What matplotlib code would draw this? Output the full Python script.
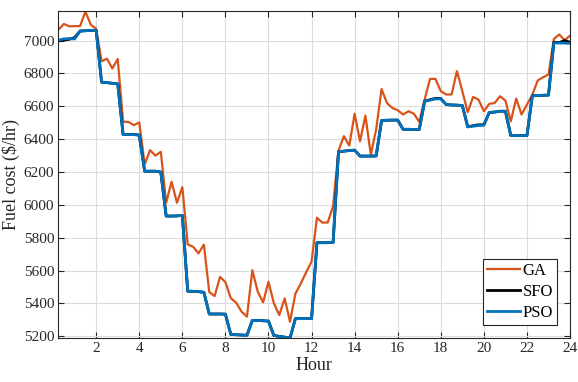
import numpy as np
import matplotlib
matplotlib.use("Agg")
import matplotlib.pyplot as plt

plt.rcParams['font.family'] = ['Liberation Serif', 'DejaVu Serif']

# time of day, 15 minute steps
hours = np.arange(1, 97) * 0.25

ga = [7067, 7101, 7087, 7088, 7088, 7176, 7097, 7071,
      6874, 6890, 6830, 6888, 6506, 6505, 6485, 6502,
      6246, 6333, 6300, 6323, 6013, 6141, 6013, 6108,
      5760, 5745, 5705, 5758, 5470, 5445, 5562, 5530,
      5432, 5405, 5350, 5320, 5603, 5472, 5407, 5532,
      5401, 5330, 5431, 5289, 5460, 5522, 5590, 5655,
      5922, 5892, 5893, 5993, 6331, 6418, 6361, 6555,
      6387, 6543, 6306, 6460, 6705, 6620, 6590, 6576,
      6550, 6570, 6555, 6505, 6641, 6767, 6767, 6692,
      6672, 6672, 6814, 6692, 6564, 6657, 6641, 6570,
      6615, 6620, 6661, 6635, 6509, 6647, 6550, 6610,
      6671, 6757, 6777, 6793, 7010, 7037, 7002, 7030]

pso = [7002, 7010, 7012, 7010, 7058, 7060, 7062, 7062,
       6747, 6744, 6740, 6737, 6428, 6428, 6428, 6425,
       6205, 6205, 6205, 6200, 5932, 5932, 5933, 5936,
       5475, 5474, 5472, 5468, 5336, 5336, 5336, 5335,
       5212, 5210, 5208, 5207, 5297, 5297, 5295, 5293,
       5205, 5200, 5195, 5190, 5308, 5308, 5308, 5308,
       5770, 5770, 5770, 5772, 6323, 6327, 6331, 6333,
       6297, 6297, 6297, 6298, 6514, 6515, 6516, 6516,
       6460, 6460, 6459, 6459, 6631, 6637, 6645, 6645,
       6611, 6608, 6607, 6605, 6475, 6479, 6483, 6485,
       6562, 6565, 6570, 6570, 6422, 6422, 6422, 6422,
       6665, 6666, 6667, 6668, 6986, 6985, 6985, 6983]

sfo = [6998, 7003, 7008, 7018, 7058, 7060, 7062, 7062,
       6747, 6744, 6740, 6737, 6428, 6428, 6428, 6425,
       6205, 6205, 6205, 6200, 5932, 5932, 5933, 5936,
       5475, 5474, 5472, 5468, 5336, 5336, 5336, 5335,
       5212, 5210, 5208, 5207, 5297, 5297, 5295, 5293,
       5205, 5200, 5195, 5190, 5308, 5308, 5308, 5308,
       5770, 5770, 5770, 5772, 6323, 6327, 6331, 6333,
       6297, 6297, 6297, 6298, 6514, 6515, 6516, 6516,
       6460, 6460, 6459, 6459, 6631, 6640, 6648, 6647,
       6611, 6608, 6607, 6605, 6475, 6482, 6487, 6488,
       6562, 6565, 6570, 6570, 6422, 6422, 6422, 6422,
       6665, 6666, 6667, 6668, 6990, 6988, 7000, 6990]

xticks = np.arange(2, 25, 2)
yticks = np.arange(5200, 7001, 200)

fig = plt.figure(figsize=(5.78, 3.82), dpi=100)
ax = fig.add_axes([0.1012, 0.1152, 0.885, 0.856])

ax.plot(hours, ga, color="#D95319", lw=1.6, label="GA")
ax.plot(hours, sfo, color="black", lw=2.0, label="SFO")
ax.plot(hours, pso, color="#0072BD", lw=2.0, label="PSO")

ax.set_xlim(0.25, 24)
ax.set_ylim(5190, 7180)
ax.set_xticks(xticks)
ax.set_yticks(yticks)
ax.grid(True, color="#DCDCDC", lw=0.8)
ax.set_axisbelow(True)
ax.tick_params(direction="in", top=True, right=True, labelsize=11,
               length=4, pad=3, color="#262626", labelcolor="#262626")
for s in ax.spines.values():
    s.set_color("#262626")
    s.set_linewidth(0.8)

ax.set_xlabel("Hour", fontsize=13, color="#262626", labelpad=1)
ax.set_ylabel("Fuel cost ($/hr)", fontsize=13, color="#262626", labelpad=3)

leg = ax.legend(loc="lower right", bbox_to_anchor=(0.975, 0.04), fontsize=12,
                fancybox=False, framealpha=1, edgecolor="#262626",
                handlelength=2.0, handletextpad=0.15, borderpad=0.25,
                labelspacing=0.3, borderaxespad=0)
leg.get_frame().set_linewidth(0.8)

fig.savefig("out.png", dpi=100)
